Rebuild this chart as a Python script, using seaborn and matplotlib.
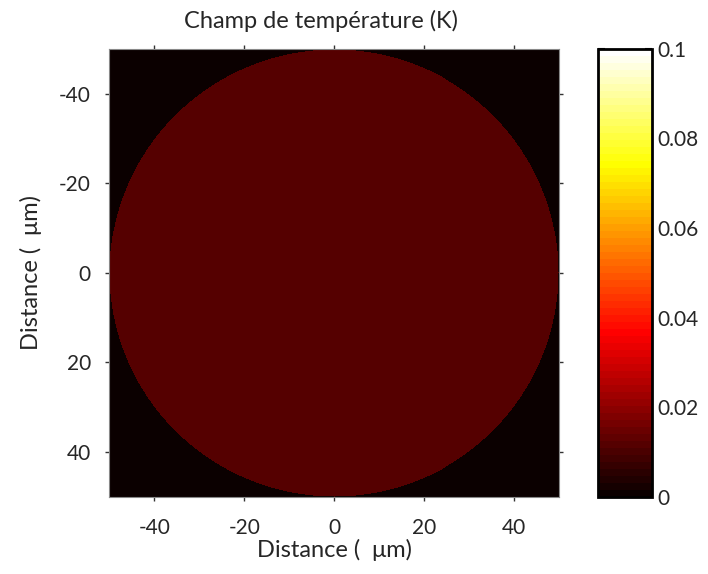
import numpy as np
import pandas as pd
import matplotlib
matplotlib.use("Agg")
import matplotlib.pyplot as plt
import seaborn as sns

# grid axes (micrometres) and the disc field
x_um = np.linspace(-50, 50, 451)
y_um = np.linspace(-50, 50, 449)
disc_radius = 50.0
disc_temp = 0.0115      # K, uniform inside the disc
outside_temp = 0.0      # K

x_ticks = [-40, -20, 0, 20, 40]
y_ticks = [-40, -20, 0, 20, 40]
cbar_ticks = [0, 0.02, 0.04, 0.06, 0.08, 0.1]
cbar_labels = ["0", "0.02", "0.04", "0.06", "0.08", "0.1"]

X, Y = np.meshgrid(x_um, y_um)
field = np.where(np.hypot(X, Y) <= disc_radius, disc_temp, outside_temp)
df = pd.DataFrame(field, index=y_um, columns=x_um)

sns.set_style("white")
plt.rcParams["font.family"] = ["Lato", "DejaVu Sans"]

fig = plt.figure(figsize=(7.08, 5.74), dpi=100)
ax = fig.add_axes([0.154, 0.134, 0.636, 0.781])
cax = fig.add_axes([0.845, 0.134, 0.076, 0.781])

hot64 = plt.get_cmap("hot", 64)
sns.heatmap(df, ax=ax, cbar_ax=cax, cmap=hot64, vmin=0, vmax=0.1,
            xticklabels=False, yticklabels=False, rasterized=True)

# map data values to heatmap cell positions
xpos = np.interp(x_ticks, x_um, np.arange(len(x_um)) + 0.5)
ypos = np.interp(y_ticks, y_um, np.arange(len(y_um)) + 0.5)
ax.set_xticks(xpos)
ax.set_xticklabels([str(v) for v in x_ticks])
ax.set_yticks(ypos)
ax.set_yticklabels([str(v) for v in y_ticks], rotation=0)
ax.tick_params(direction="inout", length=6, width=1, color="#333333",
               top=True, right=True, bottom=True, left=True,
               labelsize=15)
ax.tick_params(axis="x", pad=12)
ax.tick_params(axis="y", pad=10)
for s in ax.spines.values():
    s.set_visible(True)
    s.set_color("#888888")
    s.set_linewidth(0.8)

ax.set_xlabel("Distance (  \u03bcm)", fontsize=17, labelpad=1)
ax.set_ylabel("Distance (  \u03bcm)", fontsize=17, labelpad=12)
ax.set_title("Champ de temp\u00e9rature (K)", fontsize=17, pad=15, x=0.471)

cbar = ax.collections[0].colorbar
cbar.set_ticks(cbar_ticks)
cbar.set_ticklabels(cbar_labels)
cbar.outline.set_visible(True)
cbar.outline.set_linewidth(2)
cbar.outline.set_edgecolor("black")
cax.tick_params(direction="in", length=5, width=1.5, color="black",
                left=True, right=True, labelsize=15, pad=4)

fig.savefig("out.png", dpi=100)
